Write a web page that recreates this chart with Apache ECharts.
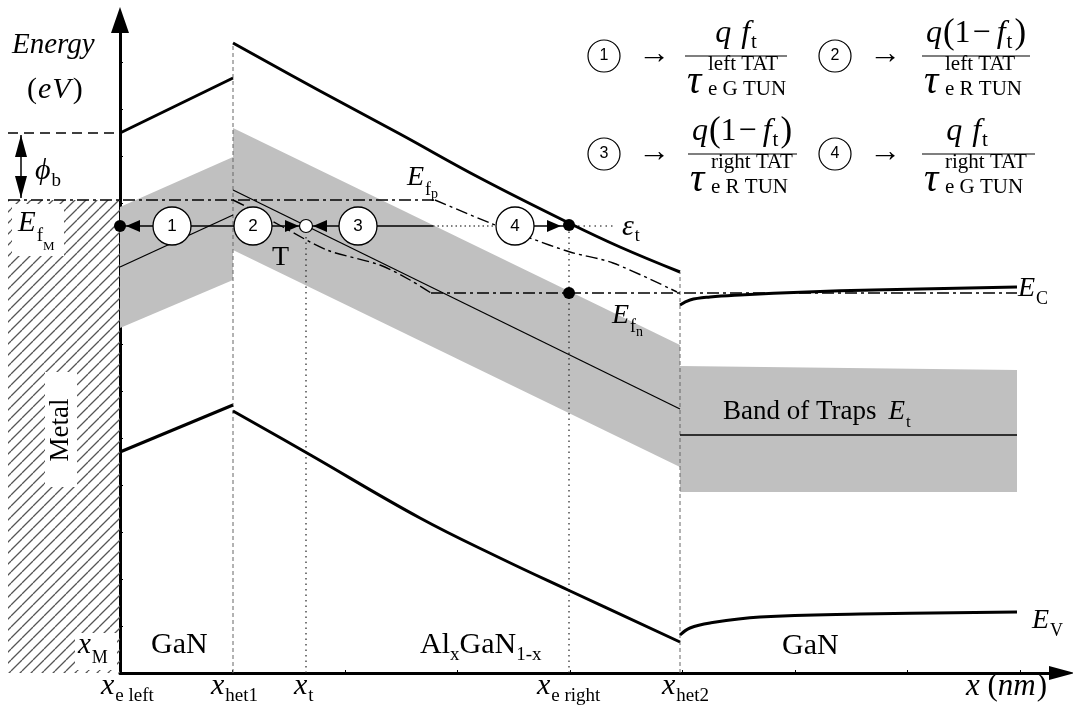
<!DOCTYPE html>
<html><head><meta charset="utf-8">
<script src="https://cdn.jsdelivr.net/npm/echarts@6/dist/echarts.min.js"></script>
<style>html,body{margin:0;padding:0;background:#fff;}#chart{width:1073px;height:713px;}</style>
</head><body><div id="chart"></div>
<script>
// ---------------- data ----------------
// x: position (arbitrary nm units), y: energy (arbitrary eV units)
const xMarks = { eLeft: 0, het1: 11.3, t: 18.6, eRight: 44.9, het2: 56.0, end: 89.7 };

const ecGaNLeft  = [[0, 5.40], [11.3, 5.95]];
const ecAlGaN    = [[11.3, 6.30], [20, 5.82], [28, 5.39], [36, 4.95], [44.9, 4.50], [50, 4.26], [56, 4.01]];
const ecGaNRight = [[56, 3.68], [57, 3.73], [59, 3.76], [62, 3.78], [68.7, 3.81], [75.3, 3.83], [89.7, 3.86]];

const evGaNLeft  = [[0, 2.21], [11.3, 2.68]];
const evAlGaN    = [[11.3, 2.62], [18.7, 2.20], [30, 1.55], [38, 1.15], [44.8, 0.83], [56, 0.31]];
const evGaNRight = [[56, 0.38], [57, 0.45], [59, 0.50], [64, 0.56], [74, 0.59], [89.7, 0.61]];

const etGaNLeft  = [[0, 4.06], [11.3, 4.58]];
const etAlGaN    = [[11.3, 4.83], [56, 2.64]];
const etGaNRight = [[56, 2.38], [89.7, 2.38]];

const trapBandLeft  = [[0, 4.66], [11.3, 5.16], [11.3, 3.93], [0, 3.45]];
const trapBandAlGaN = [[11.3, 5.45], [56, 3.28], [56, 2.06], [11.3, 4.23]];
const trapBandRight = [[56, 3.07], [89.7, 3.03], [89.7, 1.81], [56, 1.81]];

const efpFlat  = [[-11.2, 4.73], [31.5, 4.73]];
const efpBend  = [[31.5, 4.73], [37, 4.50], [41, 4.35], [45, 4.21], [49.3, 4.10], [55.7, 3.81]];
const efnBend  = [[11.3, 4.73], [12.5, 4.67], [16.3, 4.46], [20.7, 4.23], [26, 4.08], [29, 3.93], [31.1, 3.80]];
const efnFlat  = [[31.1, 3.80], [89.7, 3.80]];
const barrierLevel = [[-11.2, 5.40], [0, 5.40]];
const metalRegion  = [[-11.2, 0], [0, 0], [0, 4.73], [-11.2, 4.73]];

const het1Line    = [[11.3, 0], [11.3, 6.30]];
const het2Line    = [[56, 0], [56, 4.01]];
const xtLine      = [[18.6, 0], [18.6, 4.47]];
const xeRightLine = [[44.9, 0], [44.9, 4.47]];

const transitionSolid  = [[0, 4.47], [31.3, 4.47]];
const transitionDotted = [[31.3, 4.47], [37.6, 4.47]];
const transitionSolid2 = [[41.4, 4.47], [44.9, 4.47]];
const epsilonDotted    = [[45.8, 4.47], [49.5, 4.47]];

const processCircles = [[5.2, 4.47, '1'], [13.3, 4.47, '2'], [23.8, 4.47, '3'], [39.5, 4.47, '4']];
const trapState   = [[18.6, 4.47]];
const filledDots  = [[0, 4.47], [44.9, 4.48], [44.9, 3.80]];
const arrowsLeft  = [[1.3, 4.47], [20.0, 4.47]];
const arrowsRight = [[17.2, 4.47], [43.4, 4.47]];

const phiBArrow     = [[-9.9, 5.38], [-9.9, 4.75]];
const phiBHeadUp    = [[-9.9, 5.27]];
const phiBHeadDown  = [[-9.9, 4.86]];

const legendItems = [
  { n: '1', cx: 604, cy: 56,  bar: [685, 787],  num: 'qf',  sup: 'left TAT',  sub: 'e G TUN', numCx: 736 },
  { n: '2', cx: 835, cy: 56,  bar: [922, 1030], num: 'q1f', sup: 'left TAT',  sub: 'e R TUN', numCx: 976 },
  { n: '3', cx: 604, cy: 154, bar: [688, 797],  num: 'q1f', sup: 'right TAT', sub: 'e R TUN', numCx: 742 },
  { n: '4', cx: 835, cy: 154, bar: [922, 1035], num: 'qf',  sup: 'right TAT', sub: 'e G TUN', numCx: 967 }
];

// ---------------- helpers ----------------
const SERIF = '"Liberation Serif", "Times New Roman", "DejaVu Serif", serif';
const SANS = '"Liberation Sans", Arial, sans-serif';
const mctx = document.createElement('canvas').getContext('2d');
function fontOf(size, italic, fam) { return (italic ? 'italic ' : '') + size + 'px ' + (fam || SERIF); }
function measure(t, size, italic, fam) { mctx.font = fontOf(size, italic, fam); return mctx.measureText(t).width; }
function textEl(t, x, y, font, align, z) {
  return { type: 'text', x, y, z: z || 100, silent: true,
    style: { text: t, font, fill: '#000', align: align || 'left', verticalAlign: 'middle',
             textAlign: align || 'left', textVerticalAlign: 'middle' } };
}
// parts: [text, size, italic, dyBaseline, dxBefore]; base = baseline y
function seq(parts, x, base, align) {
  let total = 0;
  parts.forEach(p => { total += measure(p[0], p[1], p[2]) + (p[4] || 0); });
  let cx = align === 'center' ? x - total / 2 : x;
  const out = [];
  parts.forEach(p => {
    const [t, s, it, dy, dx] = p;
    cx += dx || 0;
    out.push(textEl(t, cx, base + (dy || 0) - 0.34 * s, fontOf(s, it)));
    cx += measure(t, s, it);
  });
  return out;
}
// polylines drawn through the cartesian scales (custom series so that they may leave the grid)
function lineS(data, color, width, dash, z, smooth) {
  return { type: 'custom', coordinateSystem: 'cartesian2d', data, clip: false, silent: true, z: z || 3,
    animation: false,
    renderItem: (params, api) => params.dataIndex === 0
      ? { type: 'polyline', shape: { points: data.map(p => api.coord([p[0], p[1]])), smooth: smooth || 0 },
          style: { stroke: color, lineWidth: width, fill: null, lineDash: dash || null, lineJoin: 'round' } }
      : null };
}
function polyS(data, fill, z) {
  return { type: 'custom', coordinateSystem: 'cartesian2d', data, clip: false, silent: true, z: z || 1,
    animation: false,
    renderItem: (params, api) => params.dataIndex === 0
      ? { type: 'polygon', shape: { points: data.map(p => api.coord([p[0], p[1]])) }, style: { fill } }
      : null };
}
function scatterS(data, opts) {
  return Object.assign({ type: 'scatter', data, clip: false, silent: true, z: 6, animation: false }, opts);
}

// hatch pattern for the metal
const pat = document.createElement('canvas');
pat.width = 11; pat.height = 11;
const pc = pat.getContext('2d');
pc.strokeStyle = '#555'; pc.lineWidth = 1.3;
pc.beginPath();
[-11, 0, 11].forEach(o => { pc.moveTo(o, 11); pc.lineTo(o + 11, 0); });
pc.stroke();

const GRAY = '#c0c0c0';
const DASHDOT = [12, 4, 3, 4];

const series = [
  polyS(metalRegion, { image: pat, repeat: 'repeat' }, 1),
  polyS(trapBandLeft, GRAY, 1),
  polyS(trapBandAlGaN, GRAY, 1),
  polyS(trapBandRight, GRAY, 1),
  lineS(het1Line, '#666', 1, [4, 3], 2),
  lineS(het2Line, '#666', 1, [4, 3], 2),
  lineS(xtLine, '#222', 1.2, [1.5, 4], 2),
  lineS(xeRightLine, '#222', 1.2, [1.5, 4], 2),
  lineS(barrierLevel, '#000', 1.3, [10, 6], 2),
  lineS(efpFlat, '#000', 1.4, DASHDOT, 3),
  lineS(efpBend, '#000', 1.4, DASHDOT, 3, 0.3),
  lineS(efnBend, '#000', 1.4, DASHDOT, 3, 0.3),
  lineS(efnFlat, '#000', 1.4, DASHDOT, 3),
  lineS(etGaNLeft, '#000', 1.3, null, 3),
  lineS(etAlGaN, '#000', 1.3, null, 3),
  lineS(etGaNRight, '#000', 1.3, null, 3),
  lineS(ecGaNLeft, '#000', 3, null, 4),
  lineS(ecAlGaN, '#000', 3, null, 4, 0.4),
  lineS(ecGaNRight, '#000', 3, null, 4, 0.4),
  lineS(evGaNLeft, '#000', 3, null, 4),
  lineS(evAlGaN, '#000', 3, null, 4, 0.4),
  lineS(evGaNRight, '#000', 3, null, 4, 0.4),
  lineS(transitionSolid, '#000', 1.3, null, 4),
  lineS(transitionDotted, '#000', 1.2, [1.5, 3], 4),
  lineS(transitionSolid2, '#000', 1.3, null, 4),
  lineS(epsilonDotted, '#000', 1.2, [1.5, 4], 4),
  lineS(phiBArrow, '#000', 1.5, null, 4),
  scatterS(phiBHeadUp, { symbol: 'triangle', symbolSize: [12, 22], itemStyle: { color: '#000', opacity: 1 } }),
  scatterS(phiBHeadDown, { symbol: 'triangle', symbolSize: [12, 22], symbolRotate: 180, itemStyle: { color: '#000', opacity: 1 } }),
  scatterS(processCircles, { symbol: 'circle', symbolSize: 38,
    itemStyle: { color: '#fff', borderColor: '#000', borderWidth: 1.3, opacity: 1 },
    label: { show: true, position: 'inside', formatter: p => p.data[2], color: '#000', fontSize: 17, fontFamily: SANS } }),
  scatterS(arrowsLeft, { symbol: 'triangle', symbolSize: [12, 14], symbolRotate: 90, itemStyle: { color: '#000', opacity: 1 }, z: 7 }),
  scatterS(arrowsRight, { symbol: 'triangle', symbolSize: [12, 14], symbolRotate: -90, itemStyle: { color: '#000', opacity: 1 }, z: 7 }),
  scatterS(trapState, { symbol: 'circle', symbolSize: 13, itemStyle: { color: '#fff', borderColor: '#000', borderWidth: 1.2, opacity: 1 }, z: 8 }),
  scatterS(filledDots, { symbol: 'circle', symbolSize: 12, itemStyle: { color: '#000', opacity: 1 }, z: 8 })
];

// ---------------- text / annotations ----------------
let g = [];
g.push({ type: 'rect', z: 50, silent: true, shape: { x: 12, y: 204, width: 52, height: 52 }, style: { fill: '#fff' } });
g.push({ type: 'rect', z: 50, silent: true, shape: { x: 45, y: 372, width: 32, height: 115 }, style: { fill: '#fff' } });
g.push({ type: 'rect', z: 50, silent: true, shape: { x: 75, y: 633, width: 42, height: 37 }, style: { fill: '#fff' } });
g.push({ type: 'text', x: 61, y: 430, rotation: Math.PI / 2, z: 100, silent: true,
  style: { text: 'Metal', font: fontOf(27, false), fill: '#000', align: 'center', verticalAlign: 'middle', textAlign: 'center', textVerticalAlign: 'middle' } });

const BL = 696; // baseline of bottom labels
g = g.concat(
  seq([['Energy', 29, 1]], 12, 55),
  seq([['(', 30, 0], ['e', 30, 1, 0, 1], ['V', 30, 1, 0, 1], [')', 30, 0, 0, 2]], 27, 100),
  seq([['ϕ', 30, 1], ['b', 19, 0, 6, 1]], 35, 181),
  seq([['E', 29, 1], ['f', 19, 0, 9, 1], ['M', 13, 0, 18, 0]], 18, 233),
  seq([['x', 29, 1], ['M', 18, 0, 9, 1]], 78, 655),
  seq([['T', 28, 0]], 272, 267),
  seq([['E', 28, 1], ['f', 18, 0, 9, 1], ['p', 14, 0, 12, 0]], 407, 187),
  seq([['E', 28, 1], ['f', 18, 0, 8, 1], ['n', 14, 0, 12, 0]], 612, 325),
  seq([['ε', 30, 1], ['t', 18, 0, 5, 1]], 622, 237),
  seq([['E', 28, 1], ['C', 18, 0, 7, 1]], 1018, 298),
  seq([['E', 28, 1], ['V', 18, 0, 7, 1]], 1032, 630),
  seq([['Band of Traps', 27, 0], ['E', 27, 1, 0, 12], ['t', 17, 0, 7, 1]], 723, 421),
  seq([['GaN', 30, 0]], 151, 655),
  seq([['GaN', 30, 0]], 782, 656),
  seq([['Al', 30, 0], ['x', 19, 0, 6, 0], ['GaN', 30, 0], ['1-x', 19, 0, 6, 0]], 420, 655),
  seq([['x', 30, 1], ['e left', 19, 0, 6, 1]], 101, BL),
  seq([['x', 30, 1], ['het1', 19, 0, 6, 1]], 211, BL),
  seq([['x', 30, 1], ['t', 19, 0, 6, 1]], 294, BL),
  seq([['x', 30, 1], ['e right', 19, 0, 6, 1]], 537, BL),
  seq([['x', 30, 1], ['het2', 19, 0, 6, 1]], 662, BL),
  seq([['x', 31, 1], [' (', 31, 0], ['nm', 31, 1], [')', 31, 0, 0, 1]], 966, 697)
);

legendItems.forEach(it => {
  g.push({ type: 'circle', z: 100, silent: true, shape: { cx: it.cx, cy: it.cy, r: 16 }, style: { fill: '#fff', stroke: '#000', lineWidth: 1.2 } });
  g.push(textEl(it.n, it.cx, it.cy, fontOf(16, false, SANS), 'center'));
  g = g.concat(seq([['→', 32, 0]], it.cx + 34, it.cy + 9));
  const b = it.cy;
  g.push({ type: 'line', z: 100, silent: true, shape: { x1: it.bar[0], y1: b, x2: it.bar[1], y2: b }, style: { stroke: '#000', lineWidth: 1.2 } });
  const numParts = it.num === 'qf'
    ? [['q', 32, 1], ['f', 32, 1, 0, 10], ['t', 21, 0, 6, 1]]
    : [['q', 32, 1], ['(', 35, 0, 2, 1], ['1', 32, 0], ['−', 32, 0, 0, 2], ['f', 32, 1, 0, 6], ['t', 21, 0, 6, 1], [')', 35, 0, 2, 2]];
  g = g.concat(seq(numParts, it.numCx, b - 12, 'center'));
  g = g.concat(seq([['τ', 40, 1]], it.bar[0] + 2, b + 40));
  g = g.concat(seq([[it.sup, 21, 0]], it.bar[0] + 23, b + 16));
  g = g.concat(seq([[it.sub, 21, 0]], it.bar[0] + 23, b + 41));
});

const chart = echarts.init(document.getElementById('chart'), null, { renderer: 'canvas' });
chart.setOption({
  animation: false,
  backgroundColor: '#fff',
  grid: { left: 120, right: 11, top: 20, bottom: 40, containLabel: false, outerBoundsMode: 'none' },
  xAxis: {
    type: 'value', min: 0, max: 94.2, interval: 11.25,
    axisLine: { onZero: false, lineStyle: { color: '#000', width: 3 }, symbol: ['none', 'triangle'], symbolSize: [14, 26] },
    axisTick: { show: true, inside: true, length: 3, lineStyle: { color: '#000', width: 1 } },
    axisLabel: { show: false }, splitLine: { show: false }
  },
  yAxis: {
    type: 'value', min: 0, max: 6.53, interval: 0.47,
    axisLine: { onZero: false, lineStyle: { color: '#000', width: 3 }, symbol: ['none', 'triangle'], symbolSize: [18, 26] },
    axisTick: { show: true, inside: true, length: 3, lineStyle: { color: '#000', width: 1 } },
    axisLabel: { show: false }, splitLine: { show: false }
  },
  series,
  graphic: { elements: g }
});
</script>
</body></html>
